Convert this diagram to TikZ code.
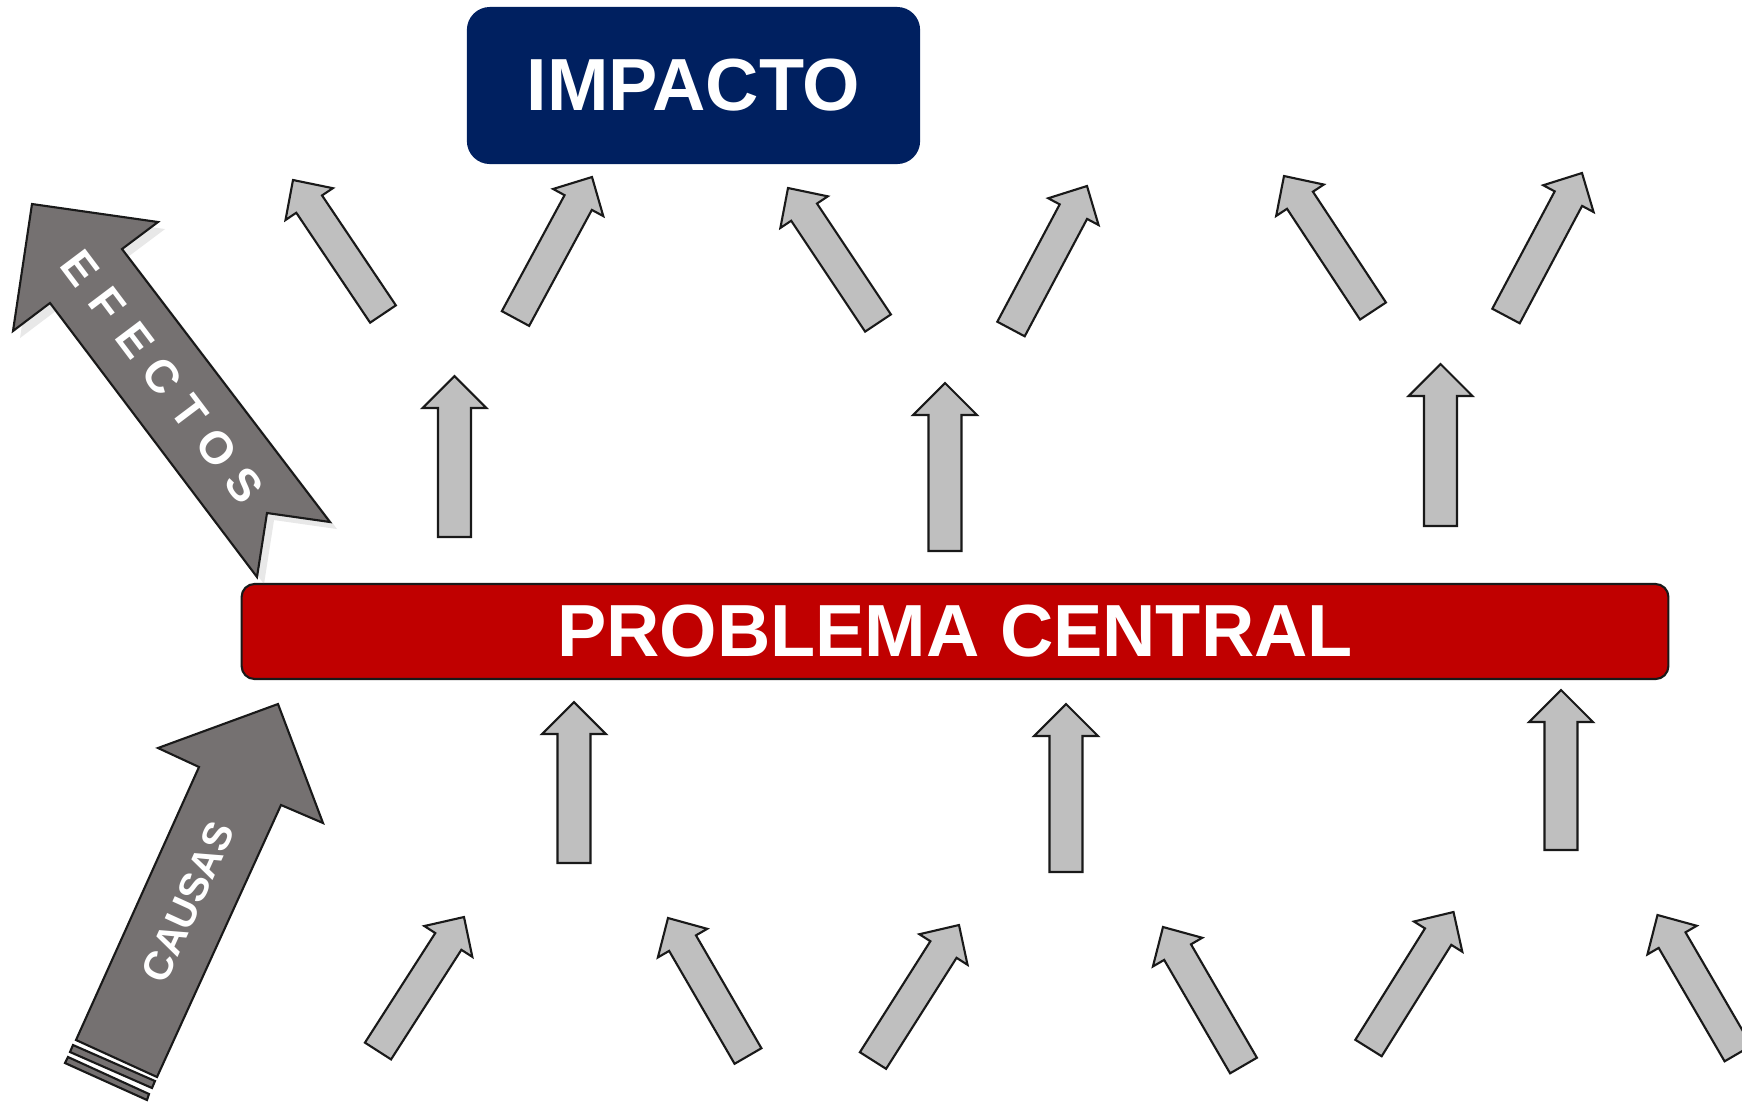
\documentclass[tikz,border=0pt]{standalone}
\usepackage{fontspec}
\setmainfont{Liberation Sans}
\usetikzlibrary{calc, shadows}
\definecolor{impactocolor}{RGB}{0,32,96}
\definecolor{problemacolor}{RGB}{192,0,0}
\definecolor{flechacolor}{RGB}{191,191,191}
\definecolor{grandecolor}{RGB}{117,113,113}

% block arrow: tail, tip, half shaft, half head, head length
\newcommand{\flecha}[5]{%
  \coordinate (ft) at (#1);
  \coordinate (fh) at (#2);
  \coordinate (fb) at ($(fh)!#5!(ft)$);
  \draw[flechabox] ($(ft)!#3!90:(fh)$) -- ($(fb)!#3!90:(fh)$) -- ($(fb)!#4!90:(fh)$)
    -- (fh) -- ($(fb)!#4!-90:(fh)$) -- ($(fb)!#3!-90:(fh)$) -- ($(ft)!#3!-90:(fh)$) -- cycle;
}

\begin{document}
\begin{tikzpicture}[x=0.01cm, y=-0.01cm,
    flechabox/.style={draw=black!90, line width=0.6pt, fill=flechacolor},
    grande/.style={draw=black!90, line width=0.6pt, fill=grandecolor},
    letra/.style={text=white, inner sep=0pt, font=\bfseries\fontsize{13}{15}\selectfont},
    caja/.style={text=white, inner sep=0pt, font=\bfseries\fontsize{21}{25}\selectfont}]
    \clip (0,0) rectangle (1742,1105);
    \fill[white] (0,0) rectangle (1742,1105);

    % Impacto
    \node[caja, fill=impactocolor, rounded corners=0.23cm,
          minimum width=4.53cm, minimum height=1.57cm] (impacto) at (693.5,85.5) {IMPACTO};

    % Problema central
    \node[caja, fill=problemacolor, draw=black!90, line width=0.6pt, rounded corners=0.13cm,
          minimum width=14.26cm, minimum height=0.95cm] (problema) at (955,631.5) {PROBLEMA CENTRAL};

    % Efectos - big arrow up left
    \draw[grande, drop shadow={shadow xshift=2pt, shadow yshift=-2pt, opacity=0.18}]
        (32,204) -- (158,222) -- (122,249) -- (330,522) -- (267,513)
        -- (257,577) -- (50,303) -- (13,331) -- cycle;
    \coordinate (ef tip) at (32,204);
    \coordinate (ef tail) at (293.5,549.5);
    \foreach \l [count=\k from 0] in {E,F,E,C,T,O,S}
        \node[letra, rotate=-53] (ef\k) at ($(ef tip)!{(80+45.3*\k)/433}!(ef tail)$) {\l};

    % Causas - big striped arrow
    \draw[grande] (278,704) -- (323,823) -- (281,805) -- (157,1077)
        -- (76,1040) -- (199,767) -- (158,748) -- cycle;
    \draw[grande] (73,1045) -- (155,1081) -- (152,1088) -- (70,1052) -- cycle;
    \draw[grande] (68,1057) -- (149,1094) -- (147,1100) -- (65,1063) -- cycle;
    \node[letra, rotate=65.5, font=\bfseries\fontsize{11.5}{14}\selectfont] (causas) at (188,902) {CAUSAS};

    % Effects row - slanted arrows
    \foreach \tx/\ty/\hx/\hy in {383/314/293/180, 515.5/318.5/592/177,
                                 878/323/788/188, 1011/329/1087/186,
                                 1373/311/1284/176, 1506/316/1582/173} {
        \flecha{\tx,\ty}{\hx,\hy}{0.155cm}{0.285cm}{0.29cm}
    }

    % Arrows into impact / out of the problem
    \foreach \cx/\ty/\hy in {454.5/537/376, 945/551/383, 1440.5/526/364,
                             574/863/702, 1066/872/704, 1561/850/690} {
        \flecha{\cx,\ty}{\cx,\hy}{0.165cm}{0.32cm}{0.32cm}
    }

    % Causes row - slanted arrows
    \foreach \tx/\ty/\hx/\hy in {378/1051/464/917, 748/1056/668/918,
                                 873/1060.5/959/925, 1243.5/1065.5/1163/927,
                                 1368.5/1048/1453.5/912, 1738/1053.5/1657.5/915} {
        \flecha{\tx,\ty}{\hx,\hy}{0.155cm}{0.285cm}{0.29cm}
    }
\end{tikzpicture}
\end{document}
